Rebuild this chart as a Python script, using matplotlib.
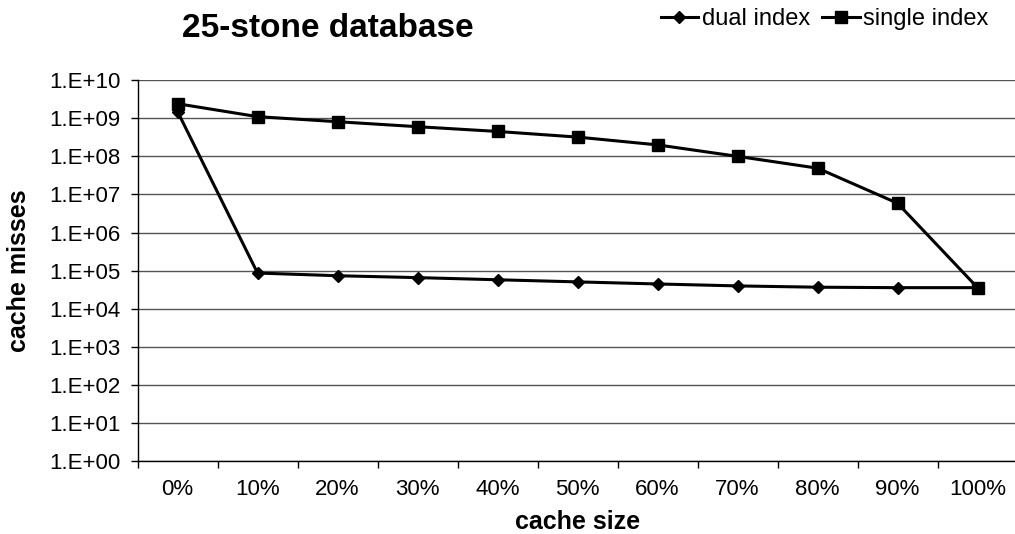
import numpy as np
import matplotlib
matplotlib.use("Agg")
import matplotlib.pyplot as plt
from matplotlib.ticker import FixedLocator

plt.rcParams["font.family"] = ["Liberation Sans", "DejaVu Sans"]

sizes = ["0%", "10%", "20%", "30%", "40%", "50%", "60%", "70%", "80%", "90%", "100%"]
dual_index = [1.5e9, 8.7e4, 7.4e4, 6.6e4, 5.8e4, 5.1e4, 4.5e4, 4.0e4, 3.7e4, 3.6e4, 3.6e4]
single_index = [2.4e9, 1.1e9, 8.1e8, 6.0e8, 4.5e8, 3.2e8, 2.0e8, 1.0e8, 4.9e7, 5.9e6, 3.6e4]
yticks = [10.0 ** k for k in range(0, 11)]
ylabels = ["1.E+%02d" % k for k in range(0, 11)]

fig = plt.figure(figsize=(10.15, 5.34), dpi=100)
ax = fig.add_axes([0.1355, 0.136, 0.867, 0.714])

x = np.arange(len(sizes))
ax.plot(x, dual_index, color="black", lw=2.2, marker="D", ms=6.5, label="dual index")
ax.plot(x, single_index, color="black", lw=2.2, marker="s", ms=8.5, label="single index")

ax.set_yscale("log")
ax.set_ylim(1, 1e10)
ax.set_xlim(-0.5, len(sizes) - 0.5)
ax.set_yticks(yticks)
ax.set_yticklabels(ylabels)
ax.yaxis.set_minor_locator(FixedLocator([]))
ax.set_xticks(x)
ax.set_xticklabels(sizes)
ax.xaxis.set_minor_locator(FixedLocator(np.arange(-0.5, len(sizes), 1.0)))
ax.tick_params(axis="x", which="major", length=0, pad=13, labelsize=16)
ax.tick_params(axis="x", which="minor", length=5, width=1)
ax.tick_params(axis="y", which="major", length=5, width=1, labelsize=16, pad=7)
ax.grid(True, axis="y", which="major", color="#555555", lw=1)
for s in ["top", "right"]:
    ax.spines[s].set_visible(False)
ax.spines["left"].set_linewidth(1)
ax.spines["bottom"].set_linewidth(1)

ax.set_xlabel("cache size", fontsize=18, fontweight="bold", labelpad=7)
ax.set_ylabel("cache misses", fontsize=18, fontweight="bold", labelpad=13)
fig.text(0.323, 0.947, "25-stone database", fontsize=24, fontweight="bold",
         ha="center", va="center")
fig.legend(loc="upper right", bbox_to_anchor=(0.995, 1.025), ncol=2, frameon=False,
           fontsize=17, handlelength=1.6, handletextpad=0.15, columnspacing=0.5,
           markerscale=0.95)

fig.savefig("out.png", dpi=100)
